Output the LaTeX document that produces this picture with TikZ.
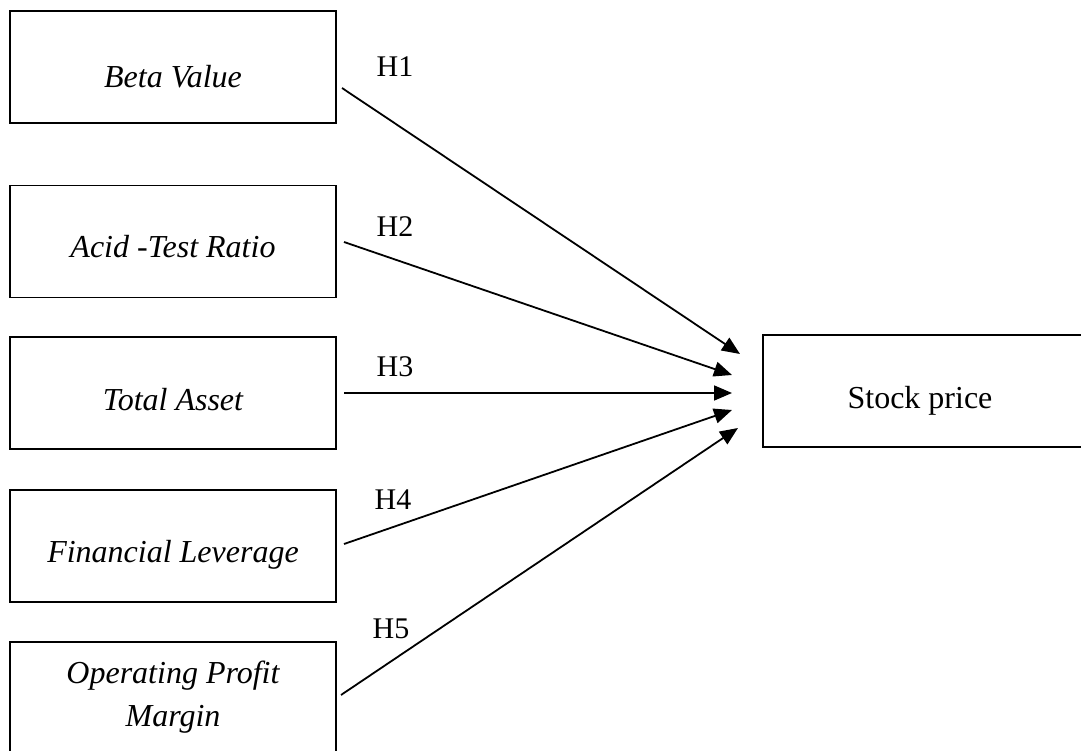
\documentclass[tikz,border=0pt]{standalone}
\usepackage{fontspec}
\setmainfont{Liberation Serif}
\usetikzlibrary{arrows.meta}
\tikzset{
  varbox/.style={draw, line width=1.8pt, minimum width=326pt, minimum height=112pt, inner sep=0pt},
  vartext/.style={font=\fontsize{32}{43}\selectfont\itshape, anchor=base, inner sep=0pt, align=center},
  hlabel/.style={font=\fontsize{30}{36}\selectfont, anchor=base, inner sep=0pt},
  hyp/.style={line width=1.8pt, -{Triangle[length=18pt,width=15pt]}}
}
\begin{document}
\begin{tikzpicture}[x=1pt,y=-1pt]
\useasboundingbox (0,0) rectangle (1081,751);
\clip (0,0) rectangle (1081,751);
% boxes
\node[varbox] (b1) at (173,67) {};
\node[varbox] (b2) at (173,241.5) {};
\node[varbox] (b3) at (173,393) {};
\node[varbox] (b4) at (173,546) {};
\node[varbox] (b5) at (173,698) {};
\node[varbox, minimum width=340pt] (sp) at (933,391) {};
% texts
\node[vartext] (t1) at (173,88) {Beta Value};
\node[vartext] (t2) at (173,258) {Acid -Test Ratio};
\node[vartext] (t3) at (173,410) {Total Asset};
\node[vartext] (t4) at (173,562) {Financial Leverage};
\node[vartext] (t5) at (173,726) {Operating Profit\\Margin};
\node[vartext, font=\fontsize{32}{43}\selectfont] (ts) at (920,408) {Stock price};
% connector end points
\coordinate (s1) at (342,88);
\coordinate (s2) at (344,242);
\coordinate (s3) at (344,393);
\coordinate (s4) at (344,544);
\coordinate (s5) at (341,695);
\coordinate (e1) at (740,354);
\coordinate (e2) at (732,375);
\coordinate (e3) at (732,393);
\coordinate (e4) at (732,410);
\coordinate (e5) at (738,428);
\draw[hyp] (s1) -- (e1);
\draw[hyp] (s2) -- (e2);
\draw[hyp] (s3) -- (e3);
\draw[hyp] (s4) -- (e4);
\draw[hyp] (s5) -- (e5);
% labels
\node[hlabel] (h1) at (395,77) {H1};
\node[hlabel] (h2) at (395,237) {H2};
\node[hlabel] (h3) at (395,376) {H3};
\node[hlabel] (h4) at (393,509) {H4};
\node[hlabel] (h5) at (391,638) {H5};
\end{tikzpicture}
\end{document}
